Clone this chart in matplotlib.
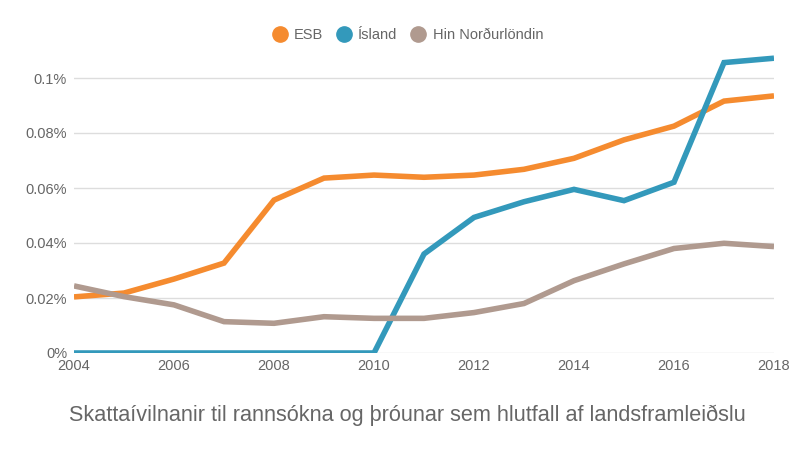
import matplotlib
matplotlib.use("Agg")
import matplotlib.pyplot as plt
from matplotlib.lines import Line2D
from matplotlib.ticker import FuncFormatter

plt.rcParams["font.family"] = ["Liberation Sans", "DejaVu Sans"]

years = list(range(2004, 2019))
esb = [0.0204, 0.0218, 0.0269, 0.0327, 0.0556, 0.0636, 0.0647, 0.0639,
       0.0647, 0.0668, 0.0708, 0.0775, 0.0825, 0.0916, 0.0935]
island = [0.0, 0.0, 0.0, 0.0, 0.0, 0.0, 0.0, 0.0360,
          0.0493, 0.0550, 0.0595, 0.0554, 0.0621, 0.1056, 0.1072]
nordic = [0.0244, 0.0205, 0.0175, 0.0114, 0.0108, 0.0132, 0.0126, 0.0126,
          0.0147, 0.0180, 0.0263, 0.0324, 0.0380, 0.0399, 0.0387]

series_names = ["ESB", "Ísland", "Hin Norðurlöndin"]
colors = ["#f58b2f", "#3399bb", "#b09a8f"]
title = "Skattaívilnanir til rannsókna og þróunar sem hlutfall af landsframleiðslu"

TEXT = "#666666"
GRID = "#dddddd"

fig = plt.figure(figsize=(8, 4.5), dpi=100)
ax = fig.add_axes([74 / 800, 1 - 353 / 450, 700 / 800, 302.5 / 450])

for vals, col in zip([esb, island, nordic], colors):
    ax.plot(years, vals, color=col, lw=4, solid_capstyle="butt",
            solid_joinstyle="miter", zorder=3)

ax.set_xlim(2004, 2018)
ax.set_ylim(0, 0.11)
ax.set_xticks(range(2004, 2019, 2))
ax.set_yticks([0, 0.02, 0.04, 0.06, 0.08, 0.1])
ax.yaxis.set_major_formatter(FuncFormatter(lambda v, _: f"{v:g}%"))
ax.grid(axis="y", color=GRID, lw=1)
ax.set_axisbelow(True)
for s in ax.spines.values():
    s.set_visible(False)
ax.tick_params(length=0, labelsize=10.5, colors=TEXT)
ax.tick_params(axis="y", pad=5)
ax.tick_params(axis="x", pad=4)

handles = [Line2D([], [], marker="o", ls="none", color=c, markersize=11)
           for c in colors]
fig.legend(handles, series_names, loc="center", bbox_to_anchor=(407 / 800, 1 - 35 / 450),
           ncol=3, frameon=False, fontsize=10.5, labelcolor=TEXT,
           handlelength=1.2, handletextpad=0.4, columnspacing=0.8)

fig.text(407 / 800, 1 - 415 / 450, title, ha="center", va="center",
         fontsize=15.6, color=TEXT)

fig.savefig("out.png", dpi=100)
